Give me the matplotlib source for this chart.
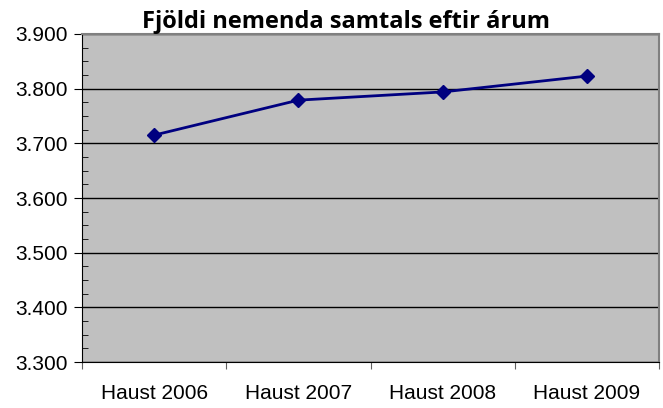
import matplotlib
matplotlib.use("Agg")
import matplotlib.pyplot as plt
from matplotlib.ticker import FuncFormatter, MultipleLocator

categories = ["Haust 2006", "Haust 2007", "Haust 2008", "Haust 2009"]
values = [3715, 3779, 3794, 3823]
title = "Fjöldi nemenda samtals eftir árum"

W, H = 663, 408
L, R, T, B = 82, 659, 34, 362
fig = plt.figure(figsize=(W/100, H/100), dpi=100)
ax = fig.add_axes([L/W, 1 - B/H, (R-L)/W, (B-T)/H])
ax.set_facecolor("#C0C0C0")

x = list(range(len(categories)))
ax.plot(x, values, color="#000080", linewidth=2.0, marker="D", markersize=7.5,
        markerfacecolor="#000080", markeredgecolor="#000080", zorder=3)

ax.set_xlim(-0.5, len(categories) - 0.5)
ax.set_ylim(3300, 3900)
ax.yaxis.set_major_locator(MultipleLocator(100))
ax.yaxis.set_minor_locator(MultipleLocator(25))
ax.yaxis.set_major_formatter(FuncFormatter(lambda v, p: f"{int(v):,}".replace(",", ".")))
ax.grid(axis="y", which="major", color="black", linewidth=1.0)
ax.set_axisbelow(True)

ax.set_xticks([i - 0.5 for i in range(len(categories) + 1)])
ax.set_xticklabels([])
ax.set_xticks(x, minor=True)
ax.set_xticklabels(categories, minor=True)
ax.tick_params(axis="x", which="minor", length=0, pad=16)
ax.tick_params(axis="x", which="major", length=5, direction="out", color="#606060")
ax.tick_params(axis="y", which="major", length=6, direction="out", pad=4)
ax.tick_params(axis="y", which="minor", length=4, direction="in")

for lab in ax.get_xticklabels(minor=True) + ax.get_yticklabels():
    lab.set_fontfamily("Liberation Sans")
    lab.set_fontsize(15)

ax.spines["left"].set_color("black")
ax.spines["bottom"].set_color("black")
ax.spines["top"].set_color("#808080")
ax.spines["right"].set_color("#808080")
ax.spines["top"].set_linewidth(1.5)
ax.spines["right"].set_linewidth(1.5)

fig.text(345.5/W, 1 - 28/H, title, ha="center", va="baseline",
         fontfamily="Open Sans", fontweight="bold", fontsize=17)

fig.savefig("out.png", dpi=100, facecolor="white")
